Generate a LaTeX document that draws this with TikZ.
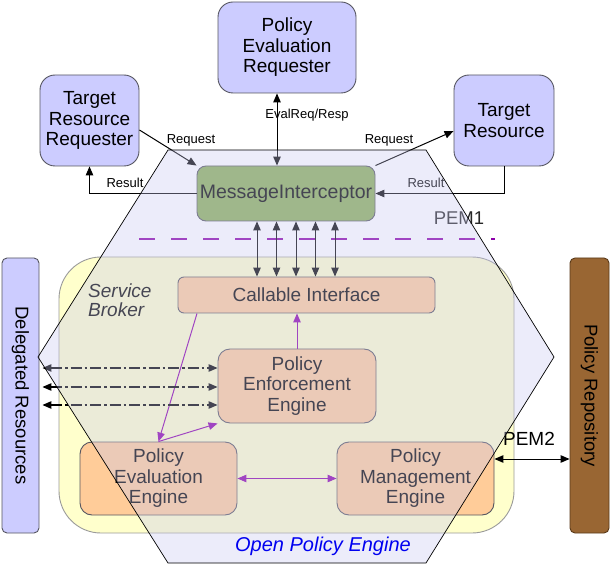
\documentclass[tikz,border=0pt]{standalone}
\usepackage{fontspec}
\setmainfont{Liberation Sans}
\usetikzlibrary{arrows.meta,calc}
\definecolor{lav}{HTML}{CCCCFF}
\definecolor{boxline}{HTML}{555560}
\definecolor{peach}{HTML}{FFCC99}
\definecolor{yel}{HTML}{FFFFCC}
\definecolor{yelline}{HTML}{9A9A9A}
\definecolor{brownbox}{HTML}{996633}
\definecolor{brownline}{HTML}{5A3A1A}
\definecolor{migreen}{HTML}{8AAE55}
\definecolor{purp}{HTML}{8C00AA}
\definecolor{hexfill}{HTML}{C8C8F0}
\definecolor{openblue}{HTML}{0000F0}
\begin{document}
\begin{tikzpicture}[x=1pt,y=-1pt,
  >={Triangle[length=9pt,width=7.5pt]},
  box/.style={draw=boxline, line width=0.9pt, rounded corners=#1, inner sep=0pt,
    align=center, font=\fontsize{19}{20.5}\selectfont},
  box/.default=12pt,
  small/.style={font=\fontsize{13}{15}\selectfont, inner sep=0pt},
  conn/.style={draw=black, line width=1pt},
  purpl/.style={draw=purp, line width=1pt},
  dd/.style={draw=black, line width=1.1pt, dash pattern=on 11pt off 3pt on 2.5pt off 3pt}]
\useasboundingbox (0,0) rectangle (611,564);

% service broker
\node[box=42pt, draw=yelline, fill=yel, minimum width=455pt, minimum height=276pt] (SB) at (286.5,395) {};
\node[anchor=north west, align=left, inner sep=0pt, font=\fontsize{19}{19}\selectfont\itshape] (SBl) at (88,284) {Service\\Broker};

% outer boxes
\node[box=15pt, fill=lav, minimum width=138pt, minimum height=91pt] (PER) at (287,47.5) {Policy\\Evaluation\\Requester};
\node[box=15pt, fill=lav, minimum width=99pt, minimum height=91pt] (TRR) at (89.5,120.5) {Target\\Resource\\Requester};
\node[box=15pt, fill=lav, minimum width=100pt, minimum height=91pt] (TR) at (504,120.5) {Target\\Resource};
\node[box=9pt, fill=migreen, minimum width=178pt, minimum height=55pt, font=\fontsize{19.5}{21}\selectfont] (MI) at (286,193.5) {MessageInterceptor};

% inner boxes
\node[box=6pt, fill=peach, minimum width=257pt, minimum height=36pt] (CI) at (306.5,295) {Callable Interface};
\node[box=12pt, fill=peach, minimum width=158pt, minimum height=74pt] (PEE) at (297,386) {Policy\\Enforcement\\Engine};
\node[box=12pt, fill=peach, minimum width=157pt, minimum height=73pt] (PEvE) at (158.5,478.5) {Policy\\Evaluation\\Engine};
\node[box=12pt, fill=peach, minimum width=157pt, minimum height=73pt] (PME) at (415.5,478.5) {Policy\\Management\\Engine};

% side bars
\node[box=5pt, fill=lav, minimum width=37pt, minimum height=275pt] (DR) at (20.5,395.5) {};
\node[rotate=-90, font=\fontsize{18.5}{20}\selectfont, inner sep=0pt] (DRt) at (DR.center) {Delegated Resources};
\node[box=5pt, draw=brownline, fill=brownbox, minimum width=39pt, minimum height=275pt] (PR) at (589.5,395.5) {};
\node[rotate=-90, font=\fontsize{18.5}{20}\selectfont, inner sep=0pt] (PRt) at (PR.center) {Policy Repository};

% top connectors
\draw[conn,<->] (PER.south -| 277,0) -- (MI.north -| 277,0);
\node[small] (lev) at (307,115) {EvalReq/Resp};
\draw[conn,->] (TRR.east |- 0,130) -- (MI.north west);
\node[small] (lrq1) at (191,140) {Request};
\draw[conn,->] (MI.north east) -- (TR.west |- 0,131);
\node[small] (lrq2) at (389,140) {Request};
\draw[conn,->] (MI.west) -| (TRR.south);
\node[small] (lrs1) at (125,183) {Result};
\draw[conn,->] (TR.south) |- (MI.east);
\node[small] (lrs2) at (426,183) {Result};

\node[font=\fontsize{18.5}{20}\selectfont, text=black!85, inner sep=0pt] (PEM1) at (459,218) {PEM1};
\coordinate (d1) at (139,239);
\coordinate (d2) at (495,239);
\draw[purpl, line width=1.1pt, dash pattern=on 16pt off 16pt] (d1) -- (d2);

\foreach \xx in {257,276.5,296,315.5,335}
  \draw[conn,<->] (MI.south -| \xx,0) -- (CI.north -| \xx,0);

% inner connectors
\draw[purpl,->] (PEE.north) -- (PEE.north |- CI.south);
\draw[purpl,->] (CI.south west -| 197,0) -- (PEvE.north);
\draw[purpl,->] (PEvE.north) -- (PEE.south west);
\draw[purpl,<->] (PEvE.east) -- (PME.west);

\foreach \yy in {368,387,405}
  \draw[dd,<->,shorten <=3pt] (DR.east |- 0,\yy) -- (PEE.west |- 0,\yy);

\draw[conn,<->] (PME.east |- 0,459) -- (PR.west |- 0,459);
\node[font=\fontsize{19}{20}\selectfont, inner sep=0pt] (PEM2) at (529,439) {PEM2};

% hexagon overlay
\coordinate (h1) at (168,150);
\coordinate (h2) at (426,150);
\coordinate (h3) at (554,357);
\coordinate (h4) at (426,563);
\coordinate (h5) at (168,563);
\coordinate (h6) at (38,357);
\fill[hexfill, fill opacity=0.35] (h1) -- (h2) -- (h3) -- (h4) -- (h5) -- (h6) -- cycle;
\draw[black, line width=0.7pt] (h1) -- (h2) -- (h3) -- (h4) -- (h5) -- (h6) -- cycle;

\node[font=\fontsize{20}{22}\selectfont\itshape, text=openblue, inner sep=0pt] (OPE) at (323,546) {Open Policy Engine};
\end{tikzpicture}
\end{document}
